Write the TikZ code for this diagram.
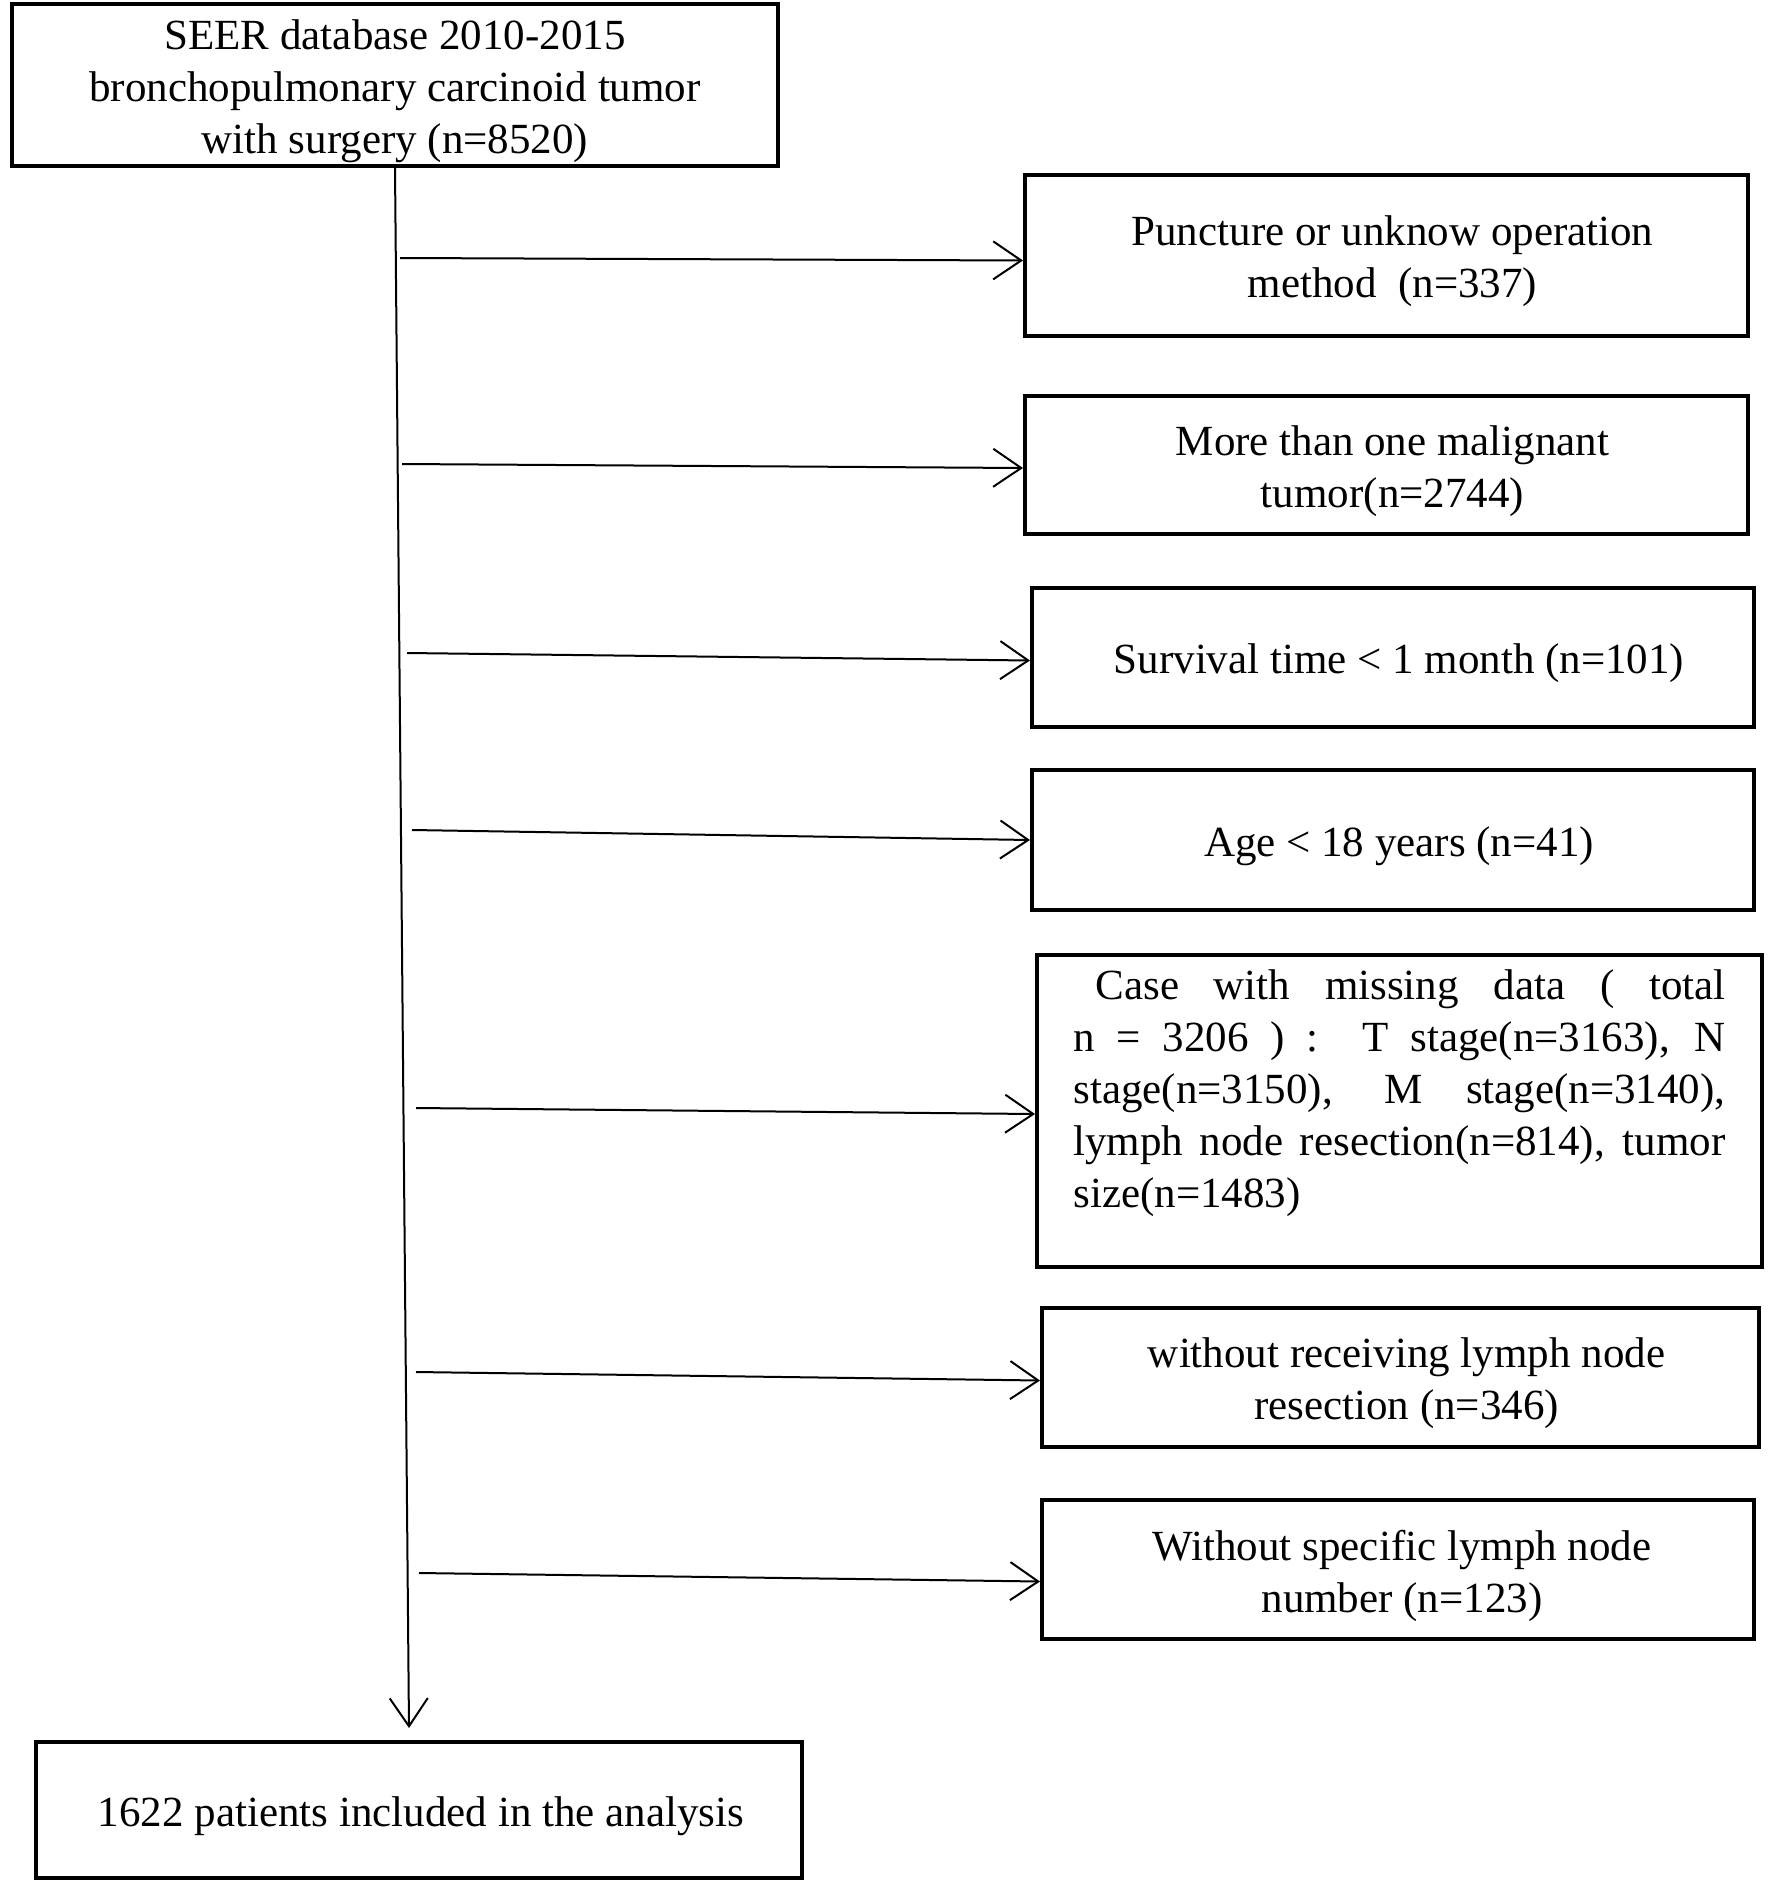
\documentclass[tikz,border=0pt]{standalone}
\usepackage{fontspec}
\setmainfont{Liberation Serif}
\usetikzlibrary{arrows.meta}
\begin{document}
\begin{tikzpicture}[x=1pt,y=-1pt,
  box/.style={draw=black,line width=4pt,inner sep=0pt},
  txt/.style={inner sep=0pt,align=center,font=\fontsize{43}{52}\selectfont},
  conn/.style={line width=2pt,-{Straight Barb[length=28pt,width=38pt,line width=2pt]}}]
\useasboundingbox (0,0) rectangle (1772,1882);
% boxes
\node[box,minimum width=766,minimum height=162] (top) at (395,85) {};
\node[box,minimum width=723,minimum height=161] (b1) at (1386.5,255.5) {};
\node[box,minimum width=723,minimum height=138] (b2) at (1386.5,465) {};
\node[box,minimum width=722,minimum height=139] (b3) at (1393,657.5) {};
\node[box,minimum width=722,minimum height=140] (b4) at (1393,840) {};
\node[box,minimum width=725,minimum height=312] (b5) at (1399.5,1111) {};
\node[box,minimum width=717,minimum height=139] (b6) at (1400.5,1377.5) {};
\node[box,minimum width=712,minimum height=139] (b7) at (1398,1569.5) {};
\node[box,minimum width=766,minimum height=136] (bot) at (419,1810) {};
% texts
\node[txt,yshift=-6] (ttop) at (top.center)
  {SEER database 2010-2015\\bronchopulmonary carcinoid tumor\\with surgery (n=8520)};
\node[txt,xshift=6,yshift=-6] (t1) at (b1.center)
  {Puncture or unknow operation\\method\ \ (n=337)};
\node[txt,xshift=6,yshift=-6] (t2) at (b2.center)
  {More than one malignant\\tumor(n=2744)};
\node[txt,xshift=6,yshift=-6] (t3) at (b3.center)
  {Survival time < 1 month (n=101)};
\node[txt,xshift=6,yshift=-6] (t4) at (b4.center)
  {Age < 18 years (n=41)};
\node[txt,align=left] (t5) at (b5.center)
  {\parbox[c][282pt][t]{652pt}{\fontsize{43}{52}\selectfont\hspace*{22pt}Case with missing data ( total\linebreak
  n = 3206 ) :\ \ T stage(n=3163), N\linebreak
  stage(n=3150), M stage(n=3140),\linebreak
  lymph node resection(n=814), tumor\linebreak
  size(n=1483)}};
\node[txt,xshift=6,yshift=-6] (t6) at (b6.center)
  {without receiving lymph node\\resection (n=346)};
\node[txt,xshift=4,yshift=-6] (t7) at (b7.center)
  {Without specific lymph node\\number (n=123)};
\node[txt,xshift=2,yshift=-6] (tbot) at (bot.center)
  {1622 patients included in the analysis};
% connectors
\coordinate (tip) at (409,1728);
\draw[conn] (top.south) -- (tip);
\coordinate (s1) at (400,258);
\coordinate (s2) at (402,464);
\coordinate (s3) at (407,653);
\coordinate (s4) at (412,830);
\coordinate (s5) at (416,1108);
\coordinate (s6) at (416,1372);
\coordinate (s7) at (419,1573);
\draw[conn] (s1) -- ([yshift=-5]b1.west);
\draw[conn] (s2) -- ([yshift=-3]b2.west);
\draw[conn] (s3) -- ([yshift=-3]b3.west);
\draw[conn] (s4) -- (b4.west);
\draw[conn] (s5) -- ([yshift=-3]b5.west);
\draw[conn] (s6) -- ([yshift=-3]b6.west);
\draw[conn] (s7) -- ([yshift=-12]b7.west);
\end{tikzpicture}
\end{document}
